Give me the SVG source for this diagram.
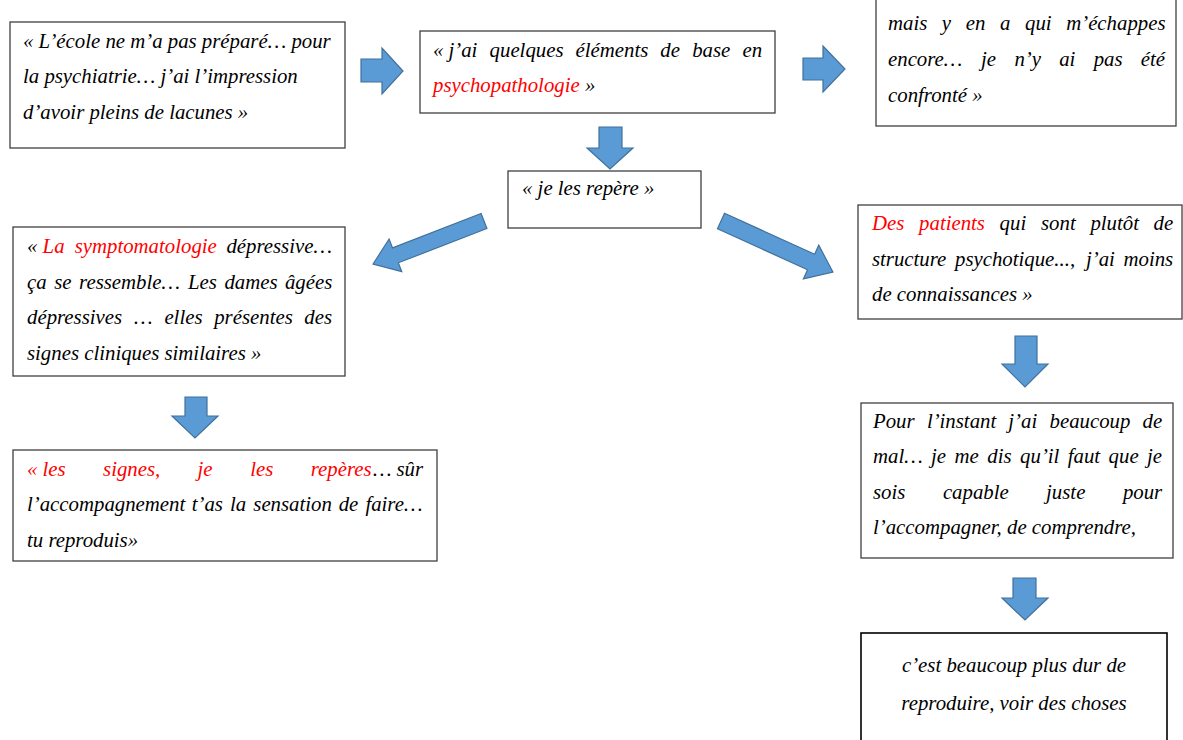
<svg xmlns="http://www.w3.org/2000/svg" width="1183" height="740" viewBox="0 0 1183 740">
<style>
.box{fill:#fff;stroke:#404040;stroke-width:1.3}
.box8{fill:#fff;stroke:#000;stroke-width:1.6}
.t{font-family:"Liberation Serif","Times New Roman",serif;font-style:italic;font-size:20.8px;fill:#000}
.r{fill:#f00}
.arr{fill:#5B9BD5;stroke:#41719C;stroke-width:1.2;stroke-linejoin:miter}
</style>
<rect width="1183" height="740" fill="#fff"/>
<g id="connectors">
<polygon class="arr" points="361,59 382,59 382,48 403,71 382,94 382,82 361,82"/>
<polygon class="arr" points="803,58 823,58 823,46 845,69 823,92 823,80 803,80"/>
<polygon class="arr" points="599,127 622,127 622,148 633,148 610,169 587,148 599,148"/>
<polygon class="arr" transform="translate(484,221) rotate(158.8)" points="0,-8 95,-8 95,-17.5 119,0 95,17.5 95,8 0,8"/>
<polygon class="arr" transform="translate(721,221) rotate(24.5)" points="0,-8.5 99,-8.5 99,-18.5 123,0 99,18.5 99,8.5 0,8.5"/>
<polygon class="arr" points="185,397 207,397 207,416 218,416 195,438 172,416 185,416"/>
<polygon class="arr" points="1015,336 1037,336 1037,364 1048,364 1025,387 1002,364 1015,364"/>
<polygon class="arr" points="1013,578 1036,578 1036,598 1048,598 1025,620 1002,598 1013,598"/>
</g>
<g id="n1">
<rect class="box" x="10" y="22" width="335" height="126"/>
<text class="t" x="23" y="48">« L’école ne m’a pas préparé… pour</text>
<text class="t" x="23" y="83">la psychiatrie… j’ai l’impression</text>
<text class="t" x="23" y="119">d’avoir pleins de lacunes »</text>
</g>
<g id="n2">
<rect class="box" x="420" y="31" width="355" height="82"/>
<text class="t" y="57"><tspan x="433">«</tspan><tspan x="448.5">j’ai</tspan><tspan x="489.6">quelques</tspan><tspan x="575.5">éléments</tspan><tspan x="660.3">de</tspan><tspan x="692.2">base</tspan><tspan x="742.5">en</tspan></text>
<text class="t" x="433" y="92"><tspan class="r">psychopathologie</tspan> »</text>
</g>
<g id="n3">
<rect class="box" x="876" y="-5" width="300" height="131"/>
<text class="t" y="30"><tspan x="888">mais</tspan><tspan x="941.8">y</tspan><tspan x="965.7">en</tspan><tspan x="999.9">a</tspan><tspan x="1025">qui</tspan><tspan x="1066.2">m’échappes</tspan></text>
<text class="t" y="66"><tspan x="888">encore…</tspan><tspan x="981.1">je</tspan><tspan x="1014.4">n’y</tspan><tspan x="1059.2">ai</tspan><tspan x="1093.7">pas</tspan><tspan x="1140.8">été</tspan></text>
<text class="t" x="888" y="102">confronté »</text>
</g>
<g id="n4">
<rect class="box" x="508" y="171" width="193" height="57"/>
<text class="t" x="522" y="195">« je les repère »</text>
</g>
<g id="n5">
<rect class="box" x="13" y="227" width="332" height="149"/>
<text class="t" y="253"><tspan x="27">«</tspan><tspan class="r" x="42.6">La</tspan><tspan class="r" x="74.7">symptomatologie</tspan><tspan x="226.4">dépressive…</tspan></text>
<text class="t" y="289"><tspan x="27">ça</tspan><tspan x="54.2">se</tspan><tspan x="79.1">ressemble…</tspan><tspan x="188">Les</tspan><tspan x="224.4">dames</tspan><tspan x="284.9">âgées</tspan></text>
<text class="t" y="324"><tspan x="27">dépressives</tspan><tspan x="134.1">…</tspan><tspan x="164.4">elles</tspan><tspan x="214.2">présentes</tspan><tspan x="304.3">des</tspan></text>
<text class="t" x="27" y="360">signes cliniques similaires »</text>
</g>
<g id="n6">
<rect class="box" x="858" y="205" width="324" height="114"/>
<text class="t" y="230"><tspan class="r" x="872">Des</tspan><tspan class="r" x="919.1">patients</tspan><tspan x="999.6">qui</tspan><tspan x="1041">sont</tspan><tspan x="1090.4">plutôt</tspan><tspan x="1153.6">de</tspan></text>
<text class="t" y="266"><tspan x="872">structure</tspan><tspan x="955">psychotique...,</tspan><tspan x="1086">j’ai</tspan><tspan x="1123.5">moins</tspan></text>
<text class="t" x="872" y="301">de connaissances »</text>
</g>
<g id="n7">
<rect class="box" x="13" y="450" width="424" height="111"/>
<text class="t" y="476"><tspan class="r" x="27">«</tspan><tspan class="r" x="42.6">les</tspan><tspan class="r" x="103.1">signes,</tspan><tspan class="r" x="197.6">je</tspan><tspan class="r" x="250.2">les</tspan><tspan class="r" x="310.8">repères</tspan><tspan x="372.9">…</tspan><tspan x="396.5">sûr</tspan></text>
<text class="t" y="511"><tspan x="27">l’accompagnement</tspan><tspan x="191.7">t’as</tspan><tspan x="230">la</tspan><tspan x="253.3">sensation</tspan><tspan x="338.7">de</tspan><tspan x="365.4">faire…</tspan></text>
<text class="t" x="27" y="547">tu reproduis»</text>
</g>
<g id="n8">
<rect class="box" x="861" y="403" width="312" height="155"/>
<text class="t" y="428"><tspan x="873">Pour</tspan><tspan x="926.9">l’instant</tspan><tspan x="1008.3">j’ai</tspan><tspan x="1049.5">beaucoup</tspan><tspan x="1142.5">de</tspan></text>
<text class="t" y="463"><tspan x="873">mal…</tspan><tspan x="931">je</tspan><tspan x="954.6">me</tspan><tspan x="987.3">dis</tspan><tspan x="1020.1">qu’il</tspan><tspan x="1067.8">faut</tspan><tspan x="1108.6">que</tspan><tspan x="1147.1">je</tspan></text>
<text class="t" y="499"><tspan x="873">sois</tspan><tspan x="942.9">capable</tspan><tspan x="1046.1">juste</tspan><tspan x="1122.9">pour</tspan></text>
<text class="t" x="873" y="534">l’accompagner, de comprendre,</text>
</g>
<g id="n9">
<rect class="box8" x="861" y="633" width="306" height="120"/>
<text class="t" x="1014" y="672" text-anchor="middle">c’est beaucoup plus dur de</text>
<text class="t" x="1014" y="710" text-anchor="middle">reproduire, voir des choses</text>
</g>
</svg>
